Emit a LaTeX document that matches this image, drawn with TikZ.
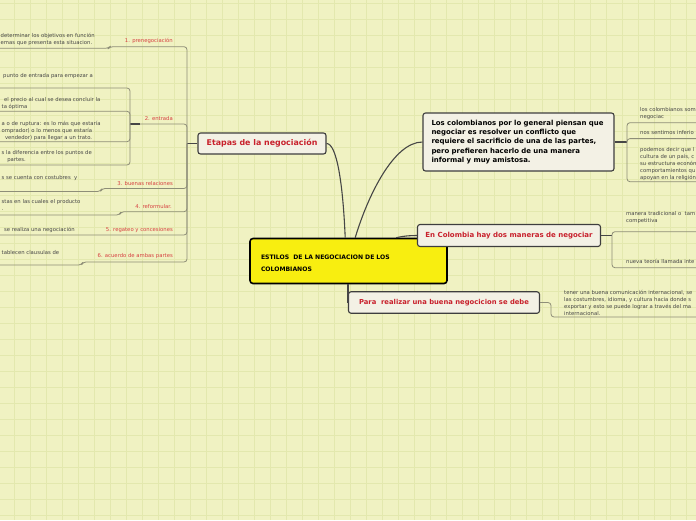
\documentclass[tikz,border=0pt]{standalone}
\usepackage{fontspec}
\setmainfont{DejaVu Sans}
\usetikzlibrary{calc}
\definecolor{paper}{RGB}{240,242,194}
\definecolor{gridc}{RGB}{227,232,174}
\definecolor{twig}{RGB}{142,142,120}
\definecolor{stem}{RGB}{70,70,70}
\definecolor{boxfill}{RGB}{243,241,229}
\definecolor{boxline}{RGB}{62,62,62}
\definecolor{hubyellow}{RGB}{248,238,16}
\definecolor{topicred}{RGB}{200,32,44}
\definecolor{labelred}{RGB}{214,64,64}
\definecolor{notegray}{RGB}{70,70,70}

\begin{document}
\begin{tikzpicture}[x=1pt,y=-1pt,line join=round,
  topic/.style={draw=boxline,fill=boxfill,line width=1.1pt,rounded corners=2.5pt,inner sep=0pt},
  note/.style={anchor=north west,inner sep=0pt,align=left,text=notegray,font=\fontsize{5.3}{7}\selectfont},
  lbl/.style={anchor=east,inner sep=0pt,text=labelred,font=\fontsize{5.3}{6}\selectfont},
  twigline/.style={draw=twig,line width=0.8pt,rounded corners=3pt},
  stemline/.style={draw=stem,line width=1.2pt},
  branch/.style={draw=stem,line width=1.1pt}]
\useasboundingbox (0,0) rectangle (696,520);
\clip (0,0) rectangle (696,520);
\fill[paper] (0,0) rectangle (696,520);
\foreach \gx in {14,30,...,696} \draw[gridc,line width=0.5pt] (\gx,0) -- (\gx,520);
\foreach \gy in {3,19,...,520} \draw[gridc,line width=0.5pt] (0,\gy) -- (696,\gy);

% central topic
\node[draw=black,fill=hubyellow,line width=1.6pt,rounded corners=3pt,minimum width=197pt,minimum height=45pt,
  text width=175pt,align=left,inner sep=0pt,font=\bfseries\fontsize{6.1}{12.3}\selectfont] (hub) at (348.5,261)
  {\rule{0pt}{9pt}ESTILOS\ \ DE LA NEGOCIACION DE LOS\\COLOMBIANOS};

% main topics
\node[topic,minimum width=128pt,minimum height=21pt,text=topicred,font=\bfseries\fontsize{7.9}{8}\selectfont] (etapas) at (262,143.5) {Etapas de la negociación};
\node[topic,minimum width=191pt,minimum height=58pt,text width=174pt,align=left,font=\bfseries\fontsize{6.95}{9.2}\selectfont] (colomb) at (518.5,142)
  {Los colombianos por lo general piensan que\\negociar es resolver un conflicto que\\requiere el sacrificio de una de las partes,\\pero prefieren hacerlo de una manera\\informal y muy amistosa.};
\node[topic,minimum width=183pt,minimum height=22pt,text=topicred,font=\bfseries\fontsize{7.0}{8}\selectfont] (encol) at (509,235.5) {En Colombia hay dos maneras de negociar};
\node[topic,minimum width=191pt,minimum height=21.5pt,text=topicred,font=\bfseries\fontsize{6.8}{8}\selectfont] (para) at (444,302.5) {Para\ \ realizar una buena negocicion se debe};

% branches from the centre
\draw[branch] ($(hub.north west)+(96,0)$) .. controls (343,185) and (337,143.5) .. (etapas.east);
\draw[branch] ($(hub.north west)+(106,0)$) .. controls (368,195) and (394,142) .. (colomb.west);
\draw[branch] ($(hub.north west)+(147,0)$) .. controls (403,236) and (410,235.5) .. (encol.west);
\draw[branch] (hub.south -| para.west) -- (para.west);

% etapas: sub topics
\coordinate (fork) at (187,143.5);
\coordinate (entfork) at (130,124);
\draw[stemline] (etapas.west) -- (fork);
\draw[twigline] (fork) |- (110,46.7) -- (108.5,48.3) -- (-5,48.3);
\draw[twigline] (fork) |- (140,124);
\draw[stemline] (140,124) -- (entfork);
\draw[twigline] (fork) |- (102,188.5) -- (100.5,191.5) -- (-5,191.5);
\draw[twigline] (fork) |- (121,211.7) -- (119.5,215) -- (-5,215);
\draw[twigline] (fork) |- (-5,235);
\draw[twigline] (fork) |- (83,262) -- (81.5,265) -- (-5,265);
\draw[twigline] (entfork) |- (-5,88);
\draw[twigline] (entfork) |- (-5,111.3);
\draw[twigline] (entfork) |- (-5,141.7);
\draw[twigline] (entfork) |- (-5,165);

\node[lbl] (l1) at (173,41) {1. prenegociación};
\node[lbl] (l2) at (173,118.5) {2. entrada};
\node[lbl] (l3) at (173,183.5) {3. buenas relaciones};
\node[lbl] (l4) at (172,206.5) {4. reformular.};
\node[lbl] (l5) at (173,230) {5. regateo y concesiones};
\node[lbl] (l6) at (173,256.5) {6. acuerdo de ambas partes};

\node[note] (n1) at (0.5,33) {determinar los objetivos en función\\emas que presenta esta situacion.};
\node[note] (n2) at (3,73) {punto de entrada para empezar a};
\node[note] (n3) at (4,97) {el precio al cual se desea concluir la\\\hspace*{-2.5pt}ta óptima};
\node[note] (n4) at (1.5,121) {a o de ruptura: es lo más que estaría\\omprador) o lo menos que estaría\\\hspace*{3.3pt}vendedor) para llegar a un trato.};
\node[note] (n5) at (1.5,150) {s la diferencia entre los puntos de\\\hspace*{5.6pt}partes.};
\node[note] (n6) at (1.5,175) {s se cuenta con costubres\ \ y};
\node[note] (n7) at (1.5,199) {stas en las cuales el producto\\.};
\node[note] (n8) at (4,227) {se realiza una negociación};
\node[note] (n9) at (1.5,250) {tablecen clausulas de};

% colombianos: sub topics
\coordinate (colfork) at (627,142);
\draw[stemline] (colomb.east) -- (colfork);
\draw[twigline] (colfork) |- (700,122.7);
\draw[twigline] (colfork) |- (700,138.6);
\draw[twigline] (colfork) |- (700,181.7);
\node[note] (r1) at (640,107) {los colombianos som\\negociac};
\node[note] (r2) at (640,130) {nos sentimos inferio};
\node[note] (r3) at (640,147) {podemos decir que l\\cultura de un país, c\\su estructura económ\\comportamientos qu\\apoyan en la religión};

% dos maneras: sub topics
\coordinate (encfork) at (612,235.5);
\draw[stemline] (encol.east) -- (encfork);
\draw[twigline] (encfork) |- (700,231.7);
\draw[twigline] (encfork) |- (700,267.7);
\node[note] (e1) at (626,211) {manera tradicional o\ \ tam\\competitiva};
\node[note] (e2) at (626,259) {nueva teoría llamada inte};

% para: sub topic
\coordinate (parafork) at (551,317);
\draw[twigline] (para.east) -| (parafork) -- (700,317);
\node[note] (p1) at (564,290) {tener una buena comunicación internacional, se\\las costumbres, idioma, y cultura hacia donde s\\exportar y esto se puede lograr a través del ma\\internacional.};
\end{tikzpicture}
\end{document}
